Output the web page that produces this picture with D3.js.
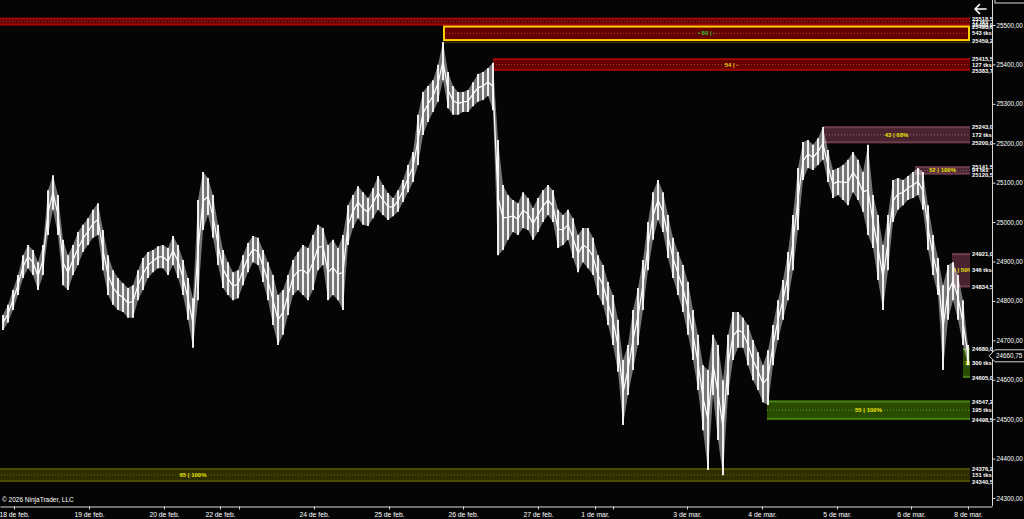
<!DOCTYPE html>
<html>
<head>
<meta charset="utf-8">
<script src="https://cdn.jsdelivr.net/npm/d3@7"></script>
<style>
body { margin: 0; background: #050505; overflow: hidden; }
text { font-family: Arial, "Liberation Sans", sans-serif; }
</style>
</head>
<body>
<div id="chart"></div>
<script>
// bar highs / lows (one bar every ~5px)
const highs = [24764,24790,24828,24866,24916,24942,24929,24898,24942,25081,25119,25069,24955,24916,24942,24975,24993,25010,25031,25048,
  24980,24916,24878,24858,24845,24833,24840,24878,24909,24924,24929,24939,24942,24934,24965,24942,24904,24858,24807,25056,
  25127,25112,25069,24993,24929,24898,24873,24878,24916,24947,24965,24960,24929,24898,24866,24815,24828,24866,24904,24924,
  24942,24934,24967,24993,24985,24942,24955,24934,24967,25043,25069,25091,25076,25061,25086,25117,25094,25074,25061,25081,
  25107,25145,25178,25272,25330,25345,25360,25399,25457,25381,25345,25330,25330,25335,25355,25376,25381,25391,25404,25208,
  25094,25069,25056,25048,25076,25061,25036,25061,25081,25094,25081,25031,25018,25031,25010,24967,24985,24985,24960,24916,
  24891,24848,24815,24752,24650,24688,24777,24833,24904,25000,25076,25107,25076,25018,24960,24924,24891,24848,24777,24714,
  24637,24625,24714,24688,24599,24714,24772,24772,24757,24739,24701,24670,24637,24675,24739,24802,24853,24924,25018,25137,
  25203,25208,25196,25213,25241,25183,25132,25137,25145,25158,25178,25158,25127,25196,25069,25018,24942,25018,25107,25112,
  25107,25117,25127,25137,25127,25043,24967,24909,24840,24891,24898,24866,24802,24688]
const lows = [24726,24745,24777,24815,24858,24883,24866,24828,24866,24967,25031,24967,24840,24828,24866,24891,24924,24942,24960,24967,
  24878,24815,24790,24777,24772,24757,24757,24802,24828,24858,24873,24883,24883,24866,24891,24858,24815,24752,24681,24802,
  24980,25018,24960,24891,24833,24815,24802,24807,24840,24873,24898,24891,24848,24802,24739,24688,24714,24764,24815,24828,
  24815,24802,24828,24878,24891,24802,24815,24802,24777,24942,24985,25010,24993,24990,25010,25031,25018,25005,25015,25026,
  25051,25076,25102,25145,25221,25254,25279,25305,25360,25289,25272,25272,25279,25279,25294,25305,25310,25320,25284,24916,
  24929,24955,24975,24967,24985,24980,24955,24975,25000,25018,25000,24934,24942,24955,24909,24873,24898,24883,24866,24815,
  24790,24739,24688,24620,24485,24561,24625,24688,24777,24878,24955,25005,24975,24909,24858,24815,24772,24714,24650,24574,
  24472,24371,24561,24447,24358,24561,24650,24681,24681,24637,24599,24574,24543,24536,24637,24701,24752,24802,24878,24980,
  25107,25137,25132,25145,25158,25102,25061,25069,25056,25043,25076,25056,25026,24967,24934,24853,24777,24878,25000,25031,
  25043,25056,25061,25069,25031,24929,24866,24815,24625,24752,24802,24752,24688,24637]
const lastPrice = 24660.75

// date ticks (bar index) and labels
const dateTicks = [2.2, 17.2, 32.2, 43.4, 47.2, 62.2, 77.2, 92, 107, 118.4, 122, 136.8, 151.8, 166.8, 181.6, 193]
const dateLabels = ["18 de feb.", "19 de feb.", "20 de feb.", "22 de feb.", "", "24 de feb.", "25 de feb.", "26 de feb.",
  "27 de feb.", "1 de mar.", "", "3 de mar.", "4 de mar.", "5 de mar.", "6 de mar.", "8 de mar."]
const priceTicks = [24300, 24400, 24500, 24600, 24700, 24800, 24900, 25000, 25100, 25200, 25300, 25400, 25500]

// supply / demand zones
const zoneKind   = ["red", "gold", "red", "pink", "pink", "pink", "green", "green", "olive"]
const zoneTop    = [25518.5, 25498.6, 25415.5, 25243.0, 25141.5, 24921.0, 24680.0, 24547.2, 24376.2]
const zoneBottom = [25499.0, 25459.2, 25383.7, 25200.0, 25120.5, 24834.5, 24605.0, 24498.5, 24340.5]
const zoneStart  = [-117, 88, 98, 164, 182.4, 189.8, 192, 152.8, -117.4]
const zoneEnd    = 193.4
const zoneTicks  = [77, 543, 127, 172, 94, 346, 300, 195, 151]
const zoneText   = ["", "\u25aa 80 | -", "54 | -", "43 | 68%", "52 | 100%", "43 | 50%", "65 | 100%", "55 | 100%", "65 | 100%"]

const width = 1024
const height = 519
const axisX = 992
const axisY = 506

const colors = {
  red:   { fill: "#640000", edge: "#a00808", mid: "#c05050", text: "#e8d000" },
  gold:  { fill: "#640000", edge: "#a00808", mid: "#c05050", text: "#2fbf2f" },
  pink:  { fill: "#4a2330", edge: "#6e3d4c", mid: "#a07a88", text: "#e8e000" },
  green: { fill: "#2a4c00", edge: "#468010", mid: "#80b040", text: "#e8e000" },
  olive: { fill: "#2e2e00", edge: "#4c4c00", mid: "#7a7a20", text: "#e8e000" }
}

const loc = d3.formatLocale({ decimal: ",", thousands: "", grouping: [3], currency: ["", ""] })
const fmt2 = loc.format(".2f")
const fmt1 = loc.format(".1f")

const x = d3.scaleLinear().domain([-0.6, 197.8]).range([0, axisX])
const y = d3.scaleLinear().domain([24300, 25500]).range([498, 25])

const svg = d3.select("#chart").append("svg")
  .attr("width", width).attr("height", height)
  .style("background", "#050505")

const defs = svg.append("defs")

// zones
const zones = d3.range(zoneTop.length).map(i => ({
  kind: zoneKind[i], top: zoneTop[i], bot: zoneBottom[i], start: zoneStart[i],
  ticks: zoneTicks[i], text: zoneText[i], i
}))

const zg = svg.append("g")
zones.forEach(z => {
  const c = colors[z.kind]
  const x0 = x(z.start), x1 = x(zoneEnd)
  const y0 = y(z.top), y1 = y(z.bot)
  defs.append("clipPath").attr("id", "zc" + z.i)
    .append("rect").attr("x", x0).attr("y", y0).attr("width", x1 - x0).attr("height", y1 - y0)
  const g = zg.append("g")
  g.append("rect").attr("x", x0).attr("y", y0).attr("width", x1 - x0).attr("height", y1 - y0)
    .attr("fill", c.fill)
  g.append("line").attr("x1", x0).attr("x2", x1).attr("y1", y0 + 1).attr("y2", y0 + 1)
    .attr("stroke", c.edge).attr("stroke-width", 2)
  g.append("line").attr("x1", x0).attr("x2", x1).attr("y1", y1 - 1).attr("y2", y1 - 1)
    .attr("stroke", c.edge).attr("stroke-width", 2)
  g.append("line").attr("x1", x0).attr("x2", x1).attr("y1", (y0 + y1) / 2).attr("y2", (y0 + y1) / 2)
    .attr("stroke", c.mid).attr("stroke-width", 0.8).attr("stroke-dasharray", "1,2")
  if (z.kind === "gold") {
    g.append("rect").attr("x", x0 + 1).attr("y", y0 + 1).attr("width", x1 - x0 - 2).attr("height", y1 - y0 - 2)
      .attr("fill", "none").attr("stroke", "#ffd000").attr("stroke-width", 2)
    g.append("line").attr("x1", x0).attr("x2", x1).attr("y1", y1 + 1.5).attr("y2", y1 + 1.5)
      .attr("stroke", "#3a3000").attr("stroke-width", 1.5)
  }
  g.append("text").attr("clip-path", "url(#zc" + z.i + ")")
    .attr("x", (x0 + x1) / 2).attr("y", (y0 + y1) / 2)
    .attr("text-anchor", "middle").attr("dominant-baseline", "central")
    .attr("font-size", "6px").attr("font-weight", "bold")
    .attr("fill", c.text).text(z.text)
})

// price series: range band + one thin stroke per bar
const bars = highs.map((h, i) => ({ i, hi: h, lo: lows[i] }))
const area = d3.area().x(d => x(d.i)).y0(d => y(d.lo)).y1(d => y(d.hi))
svg.append("path").datum(bars)
  .attr("d", area).attr("fill", "#ffffff").attr("fill-opacity", 0.45)
svg.append("path").datum(bars)
  .attr("d", d3.line().x(d => x(d.i)).y(d => y((d.hi + d.lo) / 2)))
  .attr("fill", "none").attr("stroke", "#ffffff").attr("stroke-width", 1.2)
svg.append("g").selectAll("line").data(bars).join("line")
  .attr("x1", d => x(d.i)).attr("x2", d => x(d.i))
  .attr("y1", d => y(d.hi)).attr("y2", d => y(d.lo))
  .attr("stroke", "#ffffff").attr("stroke-width", 1.8)

// zone price labels on the right
const lg = svg.append("g").attr("font-size", "5.8px").attr("font-weight", "bold").attr("fill", "#ffffff")
zones.forEach(z => {
  const lx = x(zoneEnd) + 2
  lg.append("text").attr("x", lx).attr("y", y(z.top) + 1).attr("dominant-baseline", "central").text(fmt1(z.top))
  lg.append("text").attr("x", lx).attr("y", (y(z.top) + y(z.bot)) / 2).attr("dominant-baseline", "central").text(z.ticks + " tks")
  lg.append("text").attr("x", lx).attr("y", y(z.bot)).attr("dominant-baseline", "central").text(fmt1(z.bot))
})

// right axis
svg.append("line").attr("x1", axisX + 0.5).attr("x2", axisX + 0.5).attr("y1", 0).attr("y2", axisY)
  .attr("stroke", "#d8d8d8").attr("stroke-width", 1)
const yAxis = svg.append("g").attr("transform", "translate(" + (axisX + 0.5) + ",0)")
  .call(d3.axisRight(y).tickValues(priceTicks).tickFormat(fmt2).tickSize(3).tickSizeOuter(0))
yAxis.select(".domain").remove()
yAxis.selectAll("line").attr("stroke", "#d8d8d8")
yAxis.selectAll("text").attr("fill", "#ffffff").attr("font-size", "6.3px").attr("x", 4)

// bottom axis
const xAxis = svg.append("g").attr("transform", "translate(0," + (axisY + 0.5) + ")")
  .call(d3.axisBottom(x).tickValues(dateTicks).tickFormat((d, i) => dateLabels[i]).tickSize(3).tickSizeOuter(0))
xAxis.select(".domain").attr("stroke", "#d8d8d8")
xAxis.selectAll("line").attr("stroke", "#d8d8d8")
xAxis.selectAll("text").attr("fill", "#ffffff").attr("font-size", "6.8px").attr("y", 6)

// last price marker
const ly = y(lastPrice)
svg.append("path")
  .attr("d", "M" + (axisX - 3) + "," + ly + " L" + (axisX + 3) + "," + (ly - 6) + " L" + (width + 2) + "," + (ly - 6) +
    " L" + (width + 2) + "," + (ly + 6) + " L" + (axisX + 3) + "," + (ly + 6) + " Z")
  .attr("fill", "#050505").attr("stroke", "#d8d8d8").attr("stroke-width", 1)
svg.append("text").attr("x", axisX + 4).attr("y", ly).attr("dominant-baseline", "central")
  .attr("font-size", "6.3px").attr("fill", "#ffffff").text(fmt2(lastPrice))

// top right box, partly off screen
svg.append("rect").attr("x", axisX + 3).attr("y", -12).attr("width", 40).attr("height", 15)
  .attr("fill", "#050505").attr("stroke", "#d8d8d8")

// scroll arrow (drawn as a path)
svg.append("path")
  .attr("d", "M975,9 L986,9 M975,9 L979.5,4.5 M975,9 L979.5,13.5")
  .attr("fill", "none").attr("stroke", "#ffffff").attr("stroke-width", 1.6).attr("stroke-linecap", "round")

// copyright
svg.append("text").attr("x", 2).attr("y", 499).attr("dominant-baseline", "central")
  .attr("font-size", "6.5px").attr("fill", "#ffffff").text("\u00a9 2026 NinjaTrader, LLC")
</script>
</body>
</html>
